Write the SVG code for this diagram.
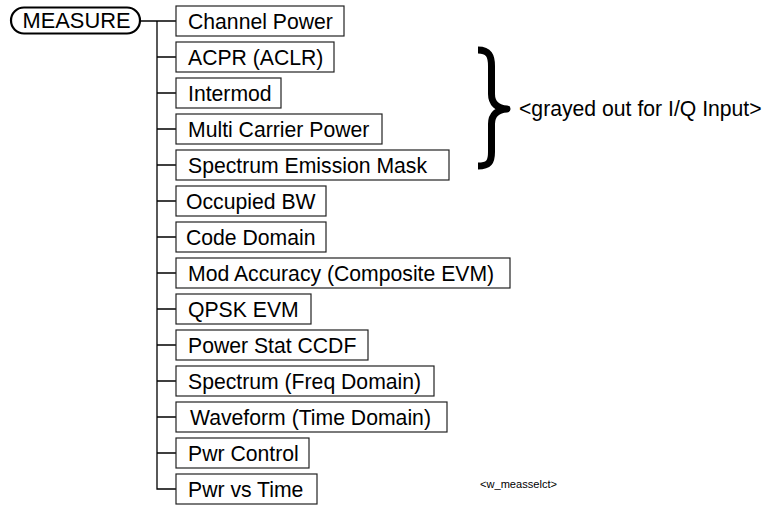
<svg xmlns="http://www.w3.org/2000/svg" width="767" height="506" viewBox="0 0 767 506">
<style>
.box{fill:#fff;stroke:#222;stroke-width:1.2}
.t{font-family:"Liberation Sans",Arial,sans-serif;font-size:21.2px;fill:#000}
.c{stroke:#000;stroke-width:1.3;fill:none}
</style>
<rect width="767" height="506" fill="#fff"/>
<g id="measure">
<rect x="11" y="7.5" width="129" height="26" rx="13" fill="#fff" stroke="#000" stroke-width="2.2"/>
<text class="t" x="22.5" y="28" textLength="108" lengthAdjust="spacingAndGlyphs">MEASURE</text>
</g>
<g id="connectors">
<line class="c" x1="140" y1="21" x2="176" y2="21"/>
<path class="c" d="M157,21 V489 H176" stroke-width="1.8"/>
<path class="c" d="M157,57 H176 M157,93 H176 M157,129 H176 M157,165 H176 M157,201 H176 M157,237 H176 M157,273 H176 M157,309 H176 M157,345 H176 M157,381 H176 M157,417 H176 M157,453 H176"/>
</g>
<g id="n1"><rect class="box" x="176" y="6" width="168" height="30"/><text class="t" x="188" y="28.5">Channel Power</text></g>
<g id="n2"><rect class="box" x="176" y="42" width="158" height="30"/><text class="t" x="188" y="64.5">ACPR (ACLR)</text></g>
<g id="n3"><rect class="box" x="176" y="78" width="105" height="30"/><text class="t" x="188" y="100.5">Intermod</text></g>
<g id="n4"><rect class="box" x="176" y="114" width="206" height="30"/><text class="t" x="188" y="136.5">Multi Carrier Power</text></g>
<g id="n5"><rect class="box" x="176" y="150" width="273" height="30"/><text class="t" x="188" y="172.5">Spectrum Emission Mask</text></g>
<g id="n6"><rect class="box" x="176" y="186" width="150" height="30"/><text class="t" x="186" y="208.5">Occupied BW</text></g>
<g id="n7"><rect class="box" x="176" y="222" width="150" height="30"/><text class="t" x="186" y="244.5">Code Domain</text></g>
<g id="n8"><rect class="box" x="176" y="258" width="334" height="30"/><text class="t" x="188" y="280.5">Mod Accuracy (Composite EVM)</text></g>
<g id="n9"><rect class="box" x="176" y="294" width="135" height="30"/><text class="t" x="188" y="316.5">QPSK EVM</text></g>
<g id="n10"><rect class="box" x="176" y="330" width="192" height="30"/><text class="t" x="188" y="352.5">Power Stat CCDF</text></g>
<g id="n11"><rect class="box" x="176" y="366" width="258" height="30"/><text class="t" x="188" y="388.5">Spectrum (Freq Domain)</text></g>
<g id="n12"><rect class="box" x="176" y="402" width="271" height="30"/><text class="t" x="190" y="424.5">Waveform (Time Domain)</text></g>
<g id="n13"><rect class="box" x="176" y="438" width="133" height="30"/><text class="t" x="188" y="460.5">Pwr Control</text></g>
<g id="n14"><rect class="box" x="176" y="474" width="141" height="30"/><text class="t" x="188" y="496.5">Pwr vs Time</text></g>
<g id="brace">
<path d="M478,50 C489,50 491.5,56 491.5,66 L491.5,94 C491.5,103 497,108.5 507,109 C497,109.5 491.5,115 491.5,124 L491.5,152 C491.5,162 489,166 478,166" fill="none" stroke="#000" stroke-width="7" stroke-linejoin="round"/>
</g>
<text class="t" x="519" y="116">&lt;grayed out for I/Q Input&gt;</text>
<text x="480" y="488" font-family="'Liberation Sans',Arial,sans-serif" font-size="10" textLength="77" lengthAdjust="spacingAndGlyphs">&lt;w_measselct&gt;</text>
</svg>
